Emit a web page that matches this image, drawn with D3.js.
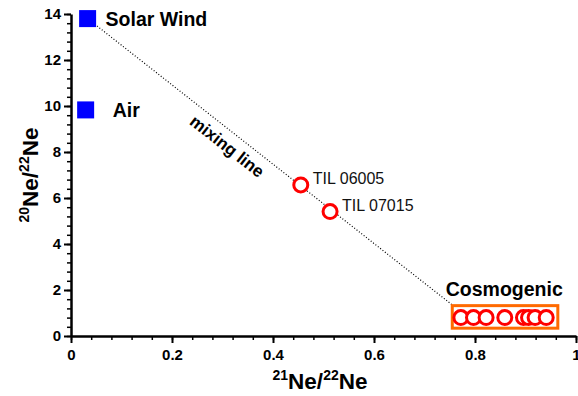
<!DOCTYPE html>
<html>
<head>
<meta charset="utf-8">
<script src="https://cdn.jsdelivr.net/npm/d3@7"></script>
<style>
  body { margin: 0; background: #fff; }
  svg text { font-family: "Liberation Sans", Arial, sans-serif; }
  .axis path, .axis line { stroke: #000; }
  .axis text { font-family: "Liberation Sans", Arial, sans-serif; font-size: 15px; font-weight: bold; fill: #000; }
</style>
</head>
<body>
<svg id="chart"></svg>
<script>
// end members (blue squares)
const endNames = ["Solar Wind", "Air"];
const endX = [0.0329, 0.029];
const endY = [13.8, 9.83];

// meteorite samples on the mixing line
const sampleNames = ["TIL 06005", "TIL 07015"];
const sampleX = [0.455, 0.513];
const sampleY = [6.57, 5.41];

// cosmogenic cluster
const cosmoX = [0.772, 0.797, 0.822, 0.859, 0.896, 0.906, 0.919, 0.941];
const cosmoY = [0.8, 0.8, 0.8, 0.8, 0.8, 0.8, 0.8, 0.8];

// mixing line end points
const mixX = [0.0329, 0.755];
const mixY = [13.8, 1.35];

// box round the cosmogenic points
const boxX = [0.755, 0.964];
const boxY = [1.32, 0.34];

const xTicks = [0, 0.2, 0.4, 0.6, 0.8, 1];
const yTicks = [0, 2, 4, 6, 8, 10, 12, 14];

const config = {
  width: 578, height: 396,
  margin: { top: 14, right: 2, bottom: 60, left: 71 }
};

const width = config.width - config.margin.left - config.margin.right;
const height = config.height - config.margin.top - config.margin.bottom;

const svg = d3.select("#chart")
  .attr("width", config.width)
  .attr("height", config.height);

const chart = svg.append("g")
  .attr("transform", `translate(${config.margin.left},${config.margin.top})`);

const xScale = d3.scaleLinear().domain([0, 1]).range([0, width]);
const yScale = d3.scaleLinear().domain([0, 14]).range([height, 0]);

// minor ticks first
chart.append("g")
  .attr("class", "axis")
  .attr("transform", `translate(0,${height})`)
  .call(d3.axisBottom(xScale).tickValues(d3.range(0, 1.0001, 0.04)).tickSize(4).tickFormat(""))
  .call(g => g.select(".domain").remove())
  .selectAll("line").attr("stroke-width", 1.5);

chart.append("g")
  .attr("class", "axis")
  .call(d3.axisLeft(yScale).tickValues(d3.range(0, 14.001, 0.4)).tickSize(4).tickFormat(""))
  .call(g => g.select(".domain").remove())
  .selectAll("line").attr("stroke-width", 1.5);

// major axes
const xAxisG = chart.append("g")
  .attr("class", "axis x-axis")
  .attr("transform", `translate(0,${height})`)
  .call(d3.axisBottom(xScale).tickValues(xTicks).tickSize(7).tickSizeOuter(0).tickPadding(6)
    .tickFormat(d => d === 0 || d === 1 ? d : d3.format(".1f")(d)));
xAxisG.select(".domain").attr("stroke-width", 2.5);
xAxisG.selectAll("line").attr("stroke-width", 2);

const yAxisG = chart.append("g")
  .attr("class", "axis y-axis")
  .call(d3.axisLeft(yScale).tickValues(yTicks).tickSize(7).tickSizeOuter(0).tickPadding(3));
yAxisG.select(".domain").attr("stroke-width", 2.5);
yAxisG.selectAll("line").attr("stroke-width", 2);

// axis titles
const xTitle = svg.append("text")
  .attr("x", 320)
  .attr("y", 389)
  .attr("text-anchor", "middle")
  .attr("font-weight", "bold")
  .attr("font-size", "22.5px");
xTitle.append("tspan").attr("font-size", "14px").attr("dy", "-9").text("21");
xTitle.append("tspan").attr("dy", "9").text("Ne/");
xTitle.append("tspan").attr("font-size", "14px").attr("dy", "-9").text("22");
xTitle.append("tspan").attr("dy", "9").text("Ne");

const yTitle = svg.append("text")
  .attr("transform", `translate(38,175) rotate(-90)`)
  .attr("text-anchor", "middle")
  .attr("font-weight", "bold")
  .attr("font-size", "22.5px");
yTitle.append("tspan").attr("font-size", "14px").attr("dy", "-9").text("20");
yTitle.append("tspan").attr("dy", "9").text("Ne/");
yTitle.append("tspan").attr("font-size", "14px").attr("dy", "-9").text("22");
yTitle.append("tspan").attr("dy", "9").text("Ne");

// mixing line
const mixData = mixX.map((x, i) => ({ x: x, y: mixY[i] }));
chart.append("path")
  .datum(mixData)
  .attr("fill", "none")
  .attr("stroke", "#000")
  .attr("stroke-width", 1.2)
  .attr("stroke-dasharray", "1,2")
  .attr("d", d3.line().x(d => xScale(d.x)).y(d => yScale(d.y)));

// mixing line label, rotated along the line
const ang = Math.atan2(yScale(mixY[1]) - yScale(mixY[0]), xScale(mixX[1]) - xScale(mixX[0])) * 180 / Math.PI;
chart.append("text")
  .attr("transform", `translate(${xScale(0.302)},${yScale(8.05)}) rotate(${ang})`)
  .attr("text-anchor", "middle")
  .attr("font-weight", "bold")
  .attr("font-size", "17px")
  .text("mixing line");

// cosmogenic box
chart.append("rect")
  .attr("x", xScale(boxX[0]))
  .attr("y", yScale(boxY[0]))
  .attr("width", xScale(boxX[1]) - xScale(boxX[0]))
  .attr("height", yScale(boxY[1]) - yScale(boxY[0]))
  .attr("fill", "#fff")
  .attr("stroke", "#ff6a00")
  .attr("stroke-width", 3);

chart.append("text")
  .attr("x", xScale(0.858))
  .attr("y", yScale(1.74))
  .attr("text-anchor", "middle")
  .attr("font-weight", "bold")
  .attr("font-size", "19.5px")
  .text("Cosmogenic");

// circles
const circleData = cosmoX.map((x, i) => ({ x: x, y: cosmoY[i] }))
  .concat(sampleX.map((x, i) => ({ x: x, y: sampleY[i] })));

chart.selectAll(".pt")
  .data(circleData)
  .enter()
  .append("circle")
  .attr("class", "pt")
  .attr("cx", d => xScale(d.x))
  .attr("cy", d => yScale(d.y))
  .attr("r", 7)
  .attr("fill", "#fff")
  .attr("stroke", "#ff0000")
  .attr("stroke-width", 3);

// sample labels
chart.selectAll(".sample-label")
  .data(sampleNames)
  .enter()
  .append("text")
  .attr("class", "sample-label")
  .attr("x", (d, i) => xScale(sampleX[i]) + 12)
  .attr("y", (d, i) => yScale(sampleY[i]) - 1)
  .attr("font-size", "16px")
  .attr("fill", "#111")
  .text(d => d);

// end member squares
const sq = 17;
chart.selectAll(".end")
  .data(endNames)
  .enter()
  .append("rect")
  .attr("class", "end")
  .attr("x", (d, i) => xScale(endX[i]) - sq / 2)
  .attr("y", (d, i) => yScale(endY[i]) - sq / 2)
  .attr("width", sq)
  .attr("height", sq)
  .attr("fill", "#0000ff");

chart.selectAll(".end-label")
  .data(endNames)
  .enter()
  .append("text")
  .attr("class", "end-label")
  .attr("x", (d, i) => i === 0 ? xScale(endX[i]) + 18 : xScale(endX[i]) + 27)
  .attr("y", (d, i) => yScale(endY[i]) + 7)
  .attr("font-weight", "bold")
  .attr("font-size", "19.5px")
  .text(d => d);
</script>
</body>
</html>
